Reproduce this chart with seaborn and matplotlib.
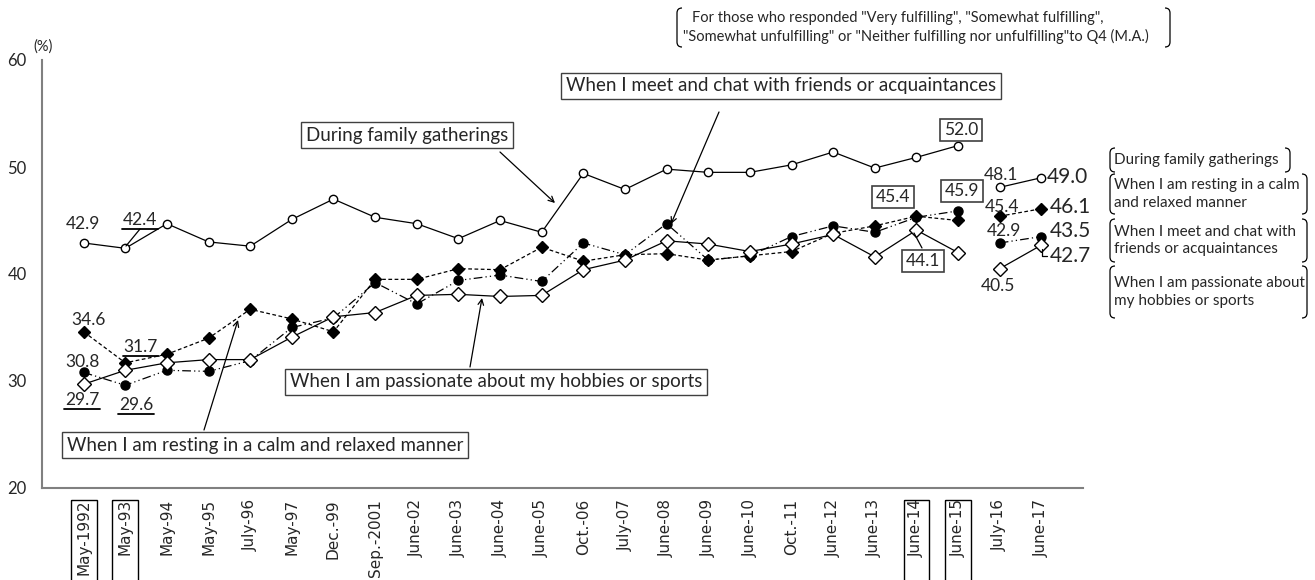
import matplotlib
matplotlib.use("Agg")
import matplotlib.pyplot as plt
import seaborn as sns
import pandas as pd
from matplotlib.transforms import Affine2D, blended_transform_factory
from matplotlib.lines import Line2D
from matplotlib.path import Path
from matplotlib.patches import PathPatch, Rectangle

W, H = 1315, 580

categories = ["May-1992", "May-93", "May-94", "May-95", "July-96", "May-97", "Dec.-99",
              "Sep.-2001", "June-02", "June-03", "June-04", "June-05", "Oct.-06", "July-07",
              "June-08", "June-09", "June-10", "Oct.-11", "June-12", "June-13", "June-14",
              "June-15", "July-16", "June-17"]

family = [42.9, 42.4, 44.7, 43.0, 42.6, 45.1, 47.0, 45.3, 44.7, 43.3, 45.0, 43.9,
          49.4, 47.9, 49.8, 49.5, 49.5, 50.2, 51.4, 49.9, 50.9, 52.0, 48.1, 49.0]
resting = [34.6, 31.7, 32.5, 34.0, 36.7, 35.8, 34.6, 39.5, 39.5, 40.5, 40.4, 42.5,
           41.2, 41.8, 41.9, 41.3, 41.7, 42.1, 43.8, 44.5, 45.4, 45.0, 45.4, 46.1]
friends = [30.8, 29.6, 31.0, 30.9, 31.9, 35.0, 35.9, 39.2, 37.2, 39.4, 39.9, 39.3,
           42.9, 41.8, 44.7, 41.3, 41.7, 43.5, 44.5, 43.9, 45.3, 45.9, 42.9, 43.5]
hobbies = [29.7, 31.0, 31.7, 32.0, 32.0, 34.1, 36.0, 36.4, 38.0, 38.1, 37.9, 38.0,
           40.4, 41.3, 43.1, 42.8, 42.1, 42.8, 43.7, 41.6, 44.1, 42.0, 40.5, 42.7]

names = ["During family gatherings",
         "When I am resting in a calm and relaxed manner",
         "When I meet and chat with friends or acquaintances",
         "When I am passionate about my hobbies or sports"]

# survey method changed after June-15, so the lines are broken there
break_idx = categories.index("July-16")

rows = []
for name, vals in zip(names, [family, resting, friends, hobbies]):
    for i, v in enumerate(vals):
        rows.append({"series": name, "x": i, "value": v, "seg": int(i >= break_idx)})
df = pd.DataFrame(rows)

sns.set_theme(style="white")
plt.rcParams["font.family"] = ["Lato", "DejaVu Sans"]

fig = plt.figure(figsize=(W / 100, H / 100), dpi=100)
ax = fig.add_axes([42 / W, 1 - 488 / H, (1083 - 42) / W, (488 - 60) / H])
# pixel coords with origin top-left, same as the reference picture
pix = Affine2D().scale(1, -1).translate(0, H)

styles = [
    dict(linestyle="-", marker="o", markerfacecolor="white", markersize=6),
    dict(linestyle=(0, (3, 2)), marker="D", markerfacecolor="black", markersize=6.5),
    dict(linestyle=(0, (7, 2.5, 1, 2.5, 1, 2.5)), marker="o", markerfacecolor="black", markersize=6.5),
    dict(linestyle="-", marker="D", markerfacecolor="white", markersize=7),
]
for name, st in zip(names, styles):
    sns.lineplot(data=df[df["series"] == name], x="x", y="value", units="seg",
                 estimator=None, color="black", linewidth=0.9, mec="black", mew=1,
                 legend=False, ax=ax, **st)

ax.set_xlim(-1, 24)
ax.set_ylim(20, 60)
ax.set_xticks(range(len(categories)))
ax.set_xticklabels(categories, rotation=90, fontsize=11, family="DejaVu Sans")
ax.set_xticks([24], minor=True)
ax.set_yticks([20, 30, 40, 50, 60])
ax.tick_params(axis="x", which="both", direction="in", length=5, pad=8, color="#808080", width=1)
ax.tick_params(axis="y", direction="in", length=5, pad=11, labelsize=12, color="#808080", width=1)
ax.set_xlabel("")
ax.set_ylabel("")
for s in ["top", "right"]:
    ax.spines[s].set_visible(False)
for s in ["left", "bottom"]:
    ax.spines[s].set_color("#808080")
    ax.spines[s].set_linewidth(1.5)

# boxes round some x tick labels
bt = blended_transform_factory(ax.transData, pix)
for lab in ["May-1992", "May-93", "June-14", "June-15"]:
    i = categories.index(lab)
    ax.add_patch(Rectangle((i - 0.31, 500), 0.62, 90, transform=bt, fill=False,
                           ec="black", lw=1, clip_on=False))

fig.text(43, 47, "(%)", transform=pix, ha="center", va="center", fontsize=10.5)

# data labels
box_kw = dict(boxstyle="square,pad=0.2", fc="white", ec="#404040", lw=1.2)
labels = [
    (family, 0, 83, 224, 12.5, None), (family, 1, 140, 220, 12.5, "u"),
    (family, 21, 961, 130, 12.5, "b"), (family, 22, 1001, 175, 12.5, None),
    (family, 23, 1067, 177, 15, None),
    (resting, 0, 89, 320, 12.5, None), (resting, 1, 141, 347, 12.5, "u"),
    (resting, 20, 893, 197, 12.5, "b"), (resting, 22, 1002, 207, 12.5, None),
    (resting, 23, 1070, 207, 15, None),
    (friends, 0, 83, 362, 12.5, None), (friends, 1, 136, 405, 12.5, "u"),
    (friends, 21, 962, 191, 12.5, "b"), (friends, 22, 1004, 231, 12.5, None),
    (friends, 23, 1070, 231, 15, None),
    (hobbies, 0, 82, 400, 12.5, "u"), (hobbies, 20, 923, 261, 12.5, "b"),
    (hobbies, 22, 998, 286, 12.5, None), (hobbies, 23, 1070, 256, 15, None),
]
for vals, i, x, y, fs, kind in labels:
    fig.text(x, y, f"{vals[i]:.1f}", transform=pix, ha="center", va="center", fontsize=fs,
             bbox=box_kw if kind == "b" else None)
    if kind == "u":
        fig.add_artist(Line2D([x - 18, x + 18], [y + 9, y + 9], transform=pix, color="black", lw=1.3))

# leader lines
for xs, ys in [([140, 126], [229, 246]), ([914, 922], [233, 248]),
               ([1042, 1042, 1047], [249, 256, 256])]:
    fig.add_artist(Line2D(xs, ys, transform=pix, color="black", lw=0.9))

# callouts with arrows
callouts = [
    (names[0], 407, 135, (500, 152), (555, 203)),
    (names[2], 781, 86, (719, 112), (671, 224)),
    (names[3], 496, 382, (470, 367), (482, 298)),
    (names[1], 265, 445, (204, 430), (238, 320)),
]
for text, cx, cy, start, tip in callouts:
    fig.text(cx, cy, text, transform=pix, ha="center", va="center", fontsize=13.5,
             bbox=dict(boxstyle="square,pad=0.25", fc="white", ec="#404040", lw=1))
    ax.annotate("", xy=tip, xycoords=pix, xytext=start, textcoords=pix,
                arrowprops=dict(arrowstyle="->", color="black", lw=0.9,
                                shrinkA=0, shrinkB=0, mutation_scale=10))


def bracket(x, y0, y1, side):
    r = 5
    verts = [(x + side * r, y0), (x, y0), (x, y0 + r), (x, y1 - r), (x, y1), (x + side * r, y1)]
    codes = [Path.MOVETO, Path.CURVE3, Path.CURVE3, Path.LINETO, Path.CURVE3, Path.CURVE3]
    fig.add_artist(PathPatch(Path(verts, codes), transform=pix, fill=False, ec="black", lw=0.9))


# note at the top
bracket(677, 8, 47, 1)
bracket(1170, 8, 47, -1)
fig.text(692, 18, 'For those who responded "Very fulfilling", "Somewhat fulfilling",',
         transform=pix, va="center", fontsize=10.5)
fig.text(683, 36, '"Somewhat unfulfilling" or "Neither fulfilling nor unfulfilling"to Q4 (M.A.)',
         transform=pix, va="center", fontsize=10.5)

# bracketed series names on the right
side_labels = [
    ("During family gatherings", 148, 172, 1290),
    ("When I am resting in a calm\nand relaxed manner", 174, 214, 1307),
    ("When I meet and chat with\nfriends or acquaintances", 219, 262, 1307),
    ("When I am passionate about\nmy hobbies or sports", 266, 318, 1307),
]
for text, y0, y1, xr in side_labels:
    bracket(1110, y0, y1, 1)
    bracket(xr, y0, y1, -1)
    fig.text(1114, (y0 + y1) / 2, text, transform=pix, va="center", fontsize=11, linespacing=1.3)

fig.savefig("out.png", dpi=100)
